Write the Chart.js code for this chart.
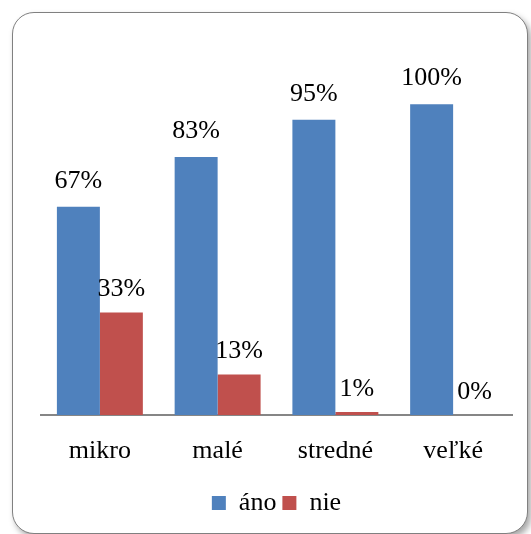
<!DOCTYPE html>
<html>
<head>
<meta charset="utf-8">
<script src="https://cdn.jsdelivr.net/npm/chart.js@4"></script>
<style>
  html, body { margin: 0; padding: 0; background: #fff; overflow: hidden; }
  #frame { position: absolute; left: 12px; top: 12px; width: 516px; height: 522px;
           border: 1.5px solid #808080; border-radius: 22px; box-sizing: border-box;
           box-shadow: 3px 4px 6px rgba(0,0,0,0.35); background: #fff; }
  #wrap { position: absolute; left: 0; top: 0; width: 531px; height: 534px; }
</style>
</head>
<body>
<div id="frame"></div>
<div id="wrap"><canvas id="c" width="531" height="534"></canvas></div>
<script>
const categories = ['mikro', 'malé', 'stredné', 'veľké'];
const seriesNames = ['áno', 'nie'];
const anoValues = [67, 83, 95, 100];
const nieValues = [33, 13, 1, 0];
const colors = ['#4F81BD', '#C0504D'];
const FONT = "'Liberation Serif', 'DejaVu Serif', serif";

const labelPlugin = {
  id: 'valueLabels',
  afterDatasetsDraw(chart) {
    const ctx = chart.ctx;
    ctx.save();
    ctx.font = '26px ' + FONT;
    ctx.fillStyle = '#000';
    ctx.textAlign = 'center';
    ctx.textBaseline = 'middle';
    chart.data.datasets.forEach((ds, di) => {
      const meta = chart.getDatasetMeta(di);
      const off = di === 0 ? 26 : 23;
      meta.data.forEach((bar, i) => {
        ctx.fillText(ds.data[i] + '%', bar.x, bar.y - off);
      });
    });
    ctx.restore();
  }
};

function draw() {
  new Chart(document.getElementById('c'), {
    type: 'bar',
    data: {
      labels: categories,
      datasets: [
        { label: seriesNames[0], data: anoValues, backgroundColor: colors[0] },
        { label: seriesNames[1], data: nieValues, backgroundColor: colors[1] }
      ]
    },
    options: {
      responsive: false,
      animation: false,
      devicePixelRatio: 1,
      layout: { padding: { left: 41, right: 19, top: 42, bottom: 8 } },
      datasets: { bar: { categoryPercentage: 0.73, barPercentage: 1.0 } },
      plugins: {
        legend: {
          position: 'bottom',
          labels: { boxWidth: 14, boxHeight: 14, padding: 6, color: '#000',
                    font: { family: FONT, size: 26 } }
        },
        tooltip: { enabled: false }
      },
      scales: {
        x: {
          grid: { display: false, drawTicks: false },
          border: { display: true, color: '#868686', width: 2 },
          ticks: { color: '#000', padding: 23, font: { family: FONT, size: 26, lineHeight: 1.0 } },
          afterFit(scale) { scale.height = scale.height - 3; }
        },
        y: { display: false, min: 0, max: 120 }
      }
    },
    plugins: [labelPlugin]
  });
}

if (document.fonts && document.fonts.load) {
  document.fonts.load("26px 'Liberation Serif'").then(draw, draw);
} else {
  draw();
}
</script>
</body>
</html>
